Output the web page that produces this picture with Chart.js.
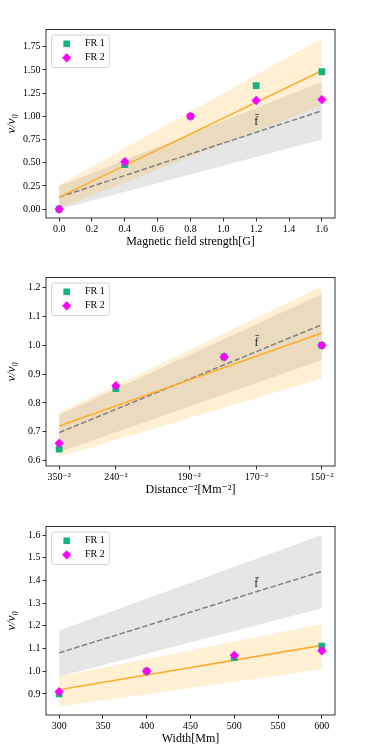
<!DOCTYPE html>
<html>
<head>
<meta charset="utf-8">
<script src="https://cdn.jsdelivr.net/npm/chart.js@4"></script>
<style>
  body { margin: 0; background: #fff; }
  #wrap { position: relative; width: 373px; height: 746px; }
  canvas { position: absolute; left: 0; }
</style>
</head>
<body>
<div id="wrap">
  <canvas id="fieldChart" width="373" height="249" style="top:0px"></canvas>
  <canvas id="distChart" width="373" height="249" style="top:248px"></canvas>
  <canvas id="widthChart" width="373" height="249" style="top:497px"></canvas>
</div>
<script>
// ---- panel 1: magnetic field strength ----
const fieldX = [0, 0.4, 0.8, 1.2, 1.6];
const fieldFR1 = [0, 0.48, 1.0, 1.33, 1.48];
const fieldFR2 = [0, 0.51, 1.0, 1.17, 1.18];
const fieldEnds = [0, 1.6];
const fieldFit = [0.13, 1.49];
const fieldFitLow = [0.01, 1.12];
const fieldFitHigh = [0.26, 1.84];
const fieldMean = [0.13, 1.06];
const fieldMeanLow = [0.0, 0.75];
const fieldMeanHigh = [0.25, 1.37];
const fieldXTicks = [0, 0.2, 0.4, 0.6, 0.8, 1.0, 1.2, 1.4, 1.6];
const fieldXLabels = ["0.0", "0.2", "0.4", "0.6", "0.8", "1.0", "1.2", "1.4", "1.6"];
const fieldYTicks = [0, 0.25, 0.5, 0.75, 1.0, 1.25, 1.5, 1.75];
const fieldYLabels = ["0.00", "0.25", "0.50", "0.75", "1.00", "1.25", "1.50", "1.75"];
const fieldNote = [1.2, 0.94];

// ---- panel 2: distance^-2 ----
const distX = [0, 0.216, 0.628, 1];
const distFR1 = [0.64, 0.85, 0.96, 1.0];
const distFR2 = [0.66, 0.86, 0.96, 1.0];
const distEnds = [0, 1];
const distFit = [0.72, 1.043];
const distFitLow = [0.613, 0.885];
const distFitHigh = [0.767, 1.205];
const distMean = [0.697, 1.072];
const distMeanLow = [0.629, 0.949];
const distMeanHigh = [0.758, 1.179];
const distXTicks = [0, 0.216, 0.495, 0.751, 1];
const distXLabels = ["350\u207B\u00B2", "240\u207B\u00B2", "190\u207B\u00B2", "170\u207B\u00B2", "150\u207B\u00B2"];
const distYTicks = [0.6, 0.7, 0.8, 0.9, 1.0, 1.1, 1.2];
const distYLabels = ["0.6", "0.7", "0.8", "0.9", "1.0", "1.1", "1.2"];
const distNote = [0.751, 1.008];

// ---- panel 3: width ----
const widthX = [300, 400, 500, 600];
const widthFR1 = [0.90, 1.0, 1.06, 1.11];
const widthFR2 = [0.91, 1.0, 1.07, 1.09];
const widthEnds = [300, 600];
const widthFit = [0.918, 1.114];
const widthFitLow = [0.845, 1.009];
const widthFitHigh = [0.977, 1.208];
const widthMean = [1.081, 1.44];
const widthMeanLow = [0.977, 1.278];
const widthMeanHigh = [1.18, 1.60];
const widthXTicks = [300, 350, 400, 450, 500, 550, 600];
const widthXLabels = ["300", "350", "400", "450", "500", "550", "600"];
const widthYTicks = [0.9, 1.0, 1.1, 1.2, 1.3, 1.4, 1.5, 1.6];
const widthYLabels = ["0.9", "1.0", "1.1", "1.2", "1.3", "1.4", "1.5", "1.6"];
const widthNote = [525, 1.383];

const serif = "'Liberation Serif', 'DejaVu Serif', serif";
const green = "#13b47e";
const magenta = "#ff00ff";
const orange = "#ffad2e";

Chart.defaults.font.family = serif;
Chart.defaults.color = "#000";

function pts(xs, ys) {
    return xs.map((x, i) => ({ x: x, y: ys[i] }));
}

// frame, legend and the f-bar note
const decorPlugin = {
    id: "decor",
    afterDatasetsDraw(chart) {
        const ctx = chart.ctx;
        const a = chart.chartArea;
        const note = chart.options.plugins.decor.note;
        ctx.save();
        ctx.fillStyle = "#222";
        ctx.font = "12px " + serif;
        ctx.textAlign = "center";
        ctx.textBaseline = "middle";
        ctx.fillText("f\u0304", chart.scales.x.getPixelForValue(note[0]), chart.scales.y.getPixelForValue(note[1]));

        // legend box
        const bx = a.left + 5.7, by = a.top + 5.6, bw = 57.6, bh = 32.4;
        ctx.fillStyle = "rgba(255,255,255,0.8)";
        ctx.strokeStyle = "#d4d4d4";
        ctx.lineWidth = 1;
        ctx.beginPath();
        ctx.roundRect(bx, by, bw, bh, 2);
        ctx.fill();
        ctx.stroke();

        const mx = a.left + 20.7;
        const y1 = a.top + 14.3, y2 = a.top + 28.3;
        ctx.fillStyle = green;
        ctx.fillRect(mx - 3.3, y1 - 3.3, 6.6, 6.6);
        ctx.fillStyle = magenta;
        ctx.beginPath();
        ctx.moveTo(mx - 4.6, y2);
        ctx.lineTo(mx, y2 - 4.6);
        ctx.lineTo(mx + 4.6, y2);
        ctx.lineTo(mx, y2 + 4.6);
        ctx.closePath();
        ctx.fill();

        ctx.fillStyle = "#000";
        ctx.font = "10px " + serif;
        ctx.textAlign = "left";
        ctx.fillText("FR 1", a.left + 39, y1);
        ctx.fillText("FR 2", a.left + 39, y2);

        ctx.strokeStyle = "#000";
        ctx.lineWidth = 0.8;
        ctx.strokeRect(a.left, a.top, a.right - a.left, a.bottom - a.top);
        ctx.restore();
    },
};

function buildChart(id, p) {
    const ctx = document.getElementById(id);
    if (!ctx) return;

    const datasets = [
        { data: pts(p.ends, p.meanLow), fill: false, borderWidth: 0, pointRadius: 0, order: 6 },
        { data: pts(p.ends, p.meanHigh), fill: { target: 0 }, backgroundColor: "rgba(128,128,128,0.2)", borderWidth: 0, pointRadius: 0, order: 6 },
        { data: pts(p.ends, p.fitLow), fill: false, borderWidth: 0, pointRadius: 0, order: 5 },
        { data: pts(p.ends, p.fitHigh), fill: { target: 2 }, backgroundColor: "rgba(255,165,0,0.17)", borderWidth: 0, pointRadius: 0, order: 5 },
        { data: pts(p.ends, p.mean), borderColor: "#808080", borderWidth: 1.5, borderDash: [5.5, 2.4], pointRadius: 0, fill: false, order: 3 },
        { data: pts(p.ends, p.fit), borderColor: orange, borderWidth: 1.6, pointRadius: 0, fill: false, order: 2 },
        { label: "FR 1", data: pts(p.x, p.fr1), showLine: false, pointStyle: "rect", pointRadius: 4.8, backgroundColor: green, borderColor: green, borderWidth: 0, order: 1 },
        { label: "FR 2", data: pts(p.x, p.fr2), showLine: false, pointStyle: "rectRot", pointRadius: 4.7, backgroundColor: magenta, borderColor: magenta, borderWidth: 0, order: 0 },
    ];
    datasets.forEach((d) => { d.type = "line"; });

    const tickFont = { family: serif, size: 10 };
    const gridOpts = { drawOnChartArea: false, drawTicks: true, tickLength: 3.5, tickColor: "#000", lineWidth: 0.8 };

    const config = {
        type: "line",
        data: { datasets: datasets },
        options: {
            responsive: false,
            animation: false,
            events: [],
            layout: { padding: { top: 29.5, right: 38, left: 0, bottom: 0 } },
            plugins: {
                legend: { display: false },
                tooltip: { enabled: false },
                decor: { note: p.note },
            },
            scales: {
                x: {
                    type: "linear",
                    min: p.xMin,
                    max: p.xMax,
                    grid: gridOpts,
                    border: { display: false },
                    ticks: {
                        font: tickFont,
                        padding: 2,
                        maxRotation: 0,
                        autoSkip: false,
                        callback: (v, i) => p.xLabels[i],
                    },
                    afterBuildTicks: (s) => { s.ticks = p.xTicks.map((v) => ({ value: v })); },
                    afterFit: (s) => { s.height = 31; },
                    title: {
                        display: true,
                        text: p.xTitle,
                        font: { family: serif, size: 12 },
                        padding: { top: 0, bottom: 0 },
                    },
                },
                y: {
                    type: "linear",
                    min: p.yMin,
                    max: p.yMax,
                    grid: gridOpts,
                    border: { display: false },
                    ticks: {
                        font: tickFont,
                        padding: 2,
                        autoSkip: false,
                        callback: (v, i) => p.yLabels[i],
                    },
                    afterBuildTicks: (s) => { s.ticks = p.yTicks.map((v) => ({ value: v })); },
                    afterFit: (s) => { s.width = 46; },
                    title: {
                        display: true,
                        text: "v/v\u2080",
                        font: { family: serif, size: 13, style: "italic" },
                        padding: { top: 4, bottom: 0 },
                    },
                },
            },
        },
        plugins: [decorPlugin],
    };

    try {
        new Chart(ctx, config);
    } catch (error) {
        console.error("Chart initialization error:", error);
    }
}

buildChart("fieldChart", {
    x: fieldX, fr1: fieldFR1, fr2: fieldFR2, ends: fieldEnds,
    fit: fieldFit, fitLow: fieldFitLow, fitHigh: fieldFitHigh,
    mean: fieldMean, meanLow: fieldMeanLow, meanHigh: fieldMeanHigh,
    xTicks: fieldXTicks, xLabels: fieldXLabels, yTicks: fieldYTicks, yLabels: fieldYLabels,
    xMin: -0.08, xMax: 1.68, yMin: -0.095, yMax: 1.935,
    xTitle: "Magnetic field strength[G]", note: fieldNote,
});

buildChart("distChart", {
    x: distX, fr1: distFR1, fr2: distFR2, ends: distEnds,
    fit: distFit, fitLow: distFitLow, fitHigh: distFitHigh,
    mean: distMean, meanLow: distMeanLow, meanHigh: distMeanHigh,
    xTicks: distXTicks, xLabels: distXLabels, yTicks: distYTicks, yLabels: distYLabels,
    xMin: -0.05, xMax: 1.05, yMin: 0.581, yMax: 1.236,
    xTitle: "Distance\u207B\u00B2[Mm\u207B\u00B2]", note: distNote,
});

buildChart("widthChart", {
    x: widthX, fr1: widthFR1, fr2: widthFR2, ends: widthEnds,
    fit: widthFit, fitLow: widthFitLow, fitHigh: widthFitHigh,
    mean: widthMean, meanLow: widthMeanLow, meanHigh: widthMeanHigh,
    xTicks: widthXTicks, xLabels: widthXLabels, yTicks: widthYTicks, yLabels: widthYLabels,
    xMin: 285, xMax: 615, yMin: 0.807, yMax: 1.638,
    xTitle: "Width[Mm]", note: widthNote,
});
</script>
</body>
</html>
